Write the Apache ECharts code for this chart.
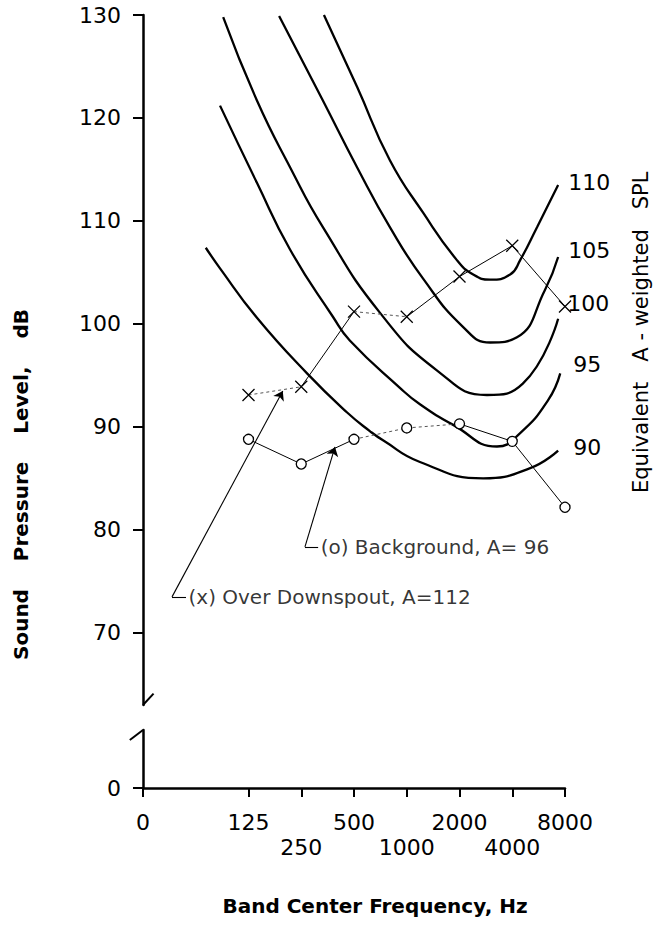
<!DOCTYPE html>
<html>
<head>
<meta charset="utf-8">
<script src="https://cdn.jsdelivr.net/npm/echarts@6/dist/echarts.min.js"></script>
<style>
	html, body { margin: 0; padding: 0; background: #fff; }
	#chart { width: 654px; height: 926px; }
</style>
</head>
<body>
<div id="chart"></div>
<script>
// octave band positions on the x axis (0 = "0", 1 is an empty slot)
const freqLabels = ['0', '', '125', '250', '500', '1000', '2000', '4000', '8000'];
const bandPos = [2, 3, 4, 5, 6, 7, 8];
const upperRow = [0, 2, 4, 6, 8];
const lowerRow = [3, 5, 7];
const yTicks = [70, 80, 90, 100, 110, 120, 130];

// measured spectra, dB
const overDownspout = [93.1, 93.9, 101.2, 100.7, 104.6, 107.6, 101.7];
const background = [88.8, 86.4, 88.8, 89.9, 90.3, 88.6, 82.2];

// equivalent A-weighted SPL contours, [band position, dB]
const contour90 = [[1.19, 107.4], [1.46, 105.4], [2.16, 100.6], [3.11, 95.2], [3.87, 91.4], [4.30, 89.6], [4.55, 88.7], [5.25, 86.6], [6.45, 85.0], [7.34, 86.0], [7.87, 87.7]];
const contour95 = [[1.46, 121.2], [2.16, 113.7], [2.79, 107.2], [3.60, 100.7], [3.92, 98.4], [4.87, 93.8], [5.25, 92.2], [5.88, 90.2], [6.71, 88.1], [7.15, 89.4], [7.68, 92.6], [7.91, 95.2]];
const contour100 = [[1.52, 129.8], [2.16, 121.7], [2.79, 115.2], [3.41, 109.4], [4.49, 101.1], [5.57, 95.5], [6.52, 93.1], [7.20, 94.2], [7.87, 100.5]];
const contour105 = [[2.58, 129.9], [3.41, 121.7], [4.06, 115.2], [4.68, 109.4], [5.31, 104.4], [6.07, 99.7], [6.58, 98.2], [7.09, 98.7], [7.62, 103.3], [7.87, 106.5]];
const contour110 = [[3.43, 130.0], [4.06, 123.0], [4.68, 115.9], [5.31, 110.8], [5.95, 106.2], [6.26, 104.8], [6.58, 104.3], [6.96, 104.8], [7.15, 106.2], [7.47, 109.4], [7.87, 113.5]];
const contourNames = ['90', '95', '100', '105', '110'];

const noteOver = '(x) Over Downspout, A=112';
const noteBackground = '(o) Background, A= 96';

const FONT = 'DejaVu Sans';
const GAP = '\u00a0\u00a0\u00a0 ';

function pairUp(xs, ys) {
	let out = [];
	for(let i = 0; i < xs.length; i++) {
		out.push([xs[i], ys[i]]);
	}
	return out;
}

function contourSeries(name, data, offset) {
	return {
		name: name,
		type: 'line',
		xAxisIndex: 0,
		yAxisIndex: 0,
		data: data,
		smooth: 0.5,
		symbol: 'none',
		silent: true,
		lineStyle: { color: '#000', width: 2.3 },
		endLabel: {
			show: true,
			formatter: name,
			distance: 0,
			offset: offset,
			color: '#000',
			fontFamily: FONT,
			fontSize: 22
		},
		z: 2
	};
}

// one piece of a measured spectrum line, solid or dotted like the original
function pieceSeries(values, from, to, dotted) {
	return {
		type: 'line',
		xAxisIndex: 0,
		yAxisIndex: 0,
		data: pairUp(bandPos.slice(from, to + 1), values.slice(from, to + 1)),
		symbol: 'none',
		silent: true,
		lineStyle: dotted ?
			{ color: '#555', width: 1, type: [3, 3] } :
			{ color: '#000', width: 1 },
		z: 3
	};
}

// markers only, drawn over the line pieces
function markerSeries(name, values, symbol, size, fill) {
	return {
		name: name,
		type: 'line',
		xAxisIndex: 0,
		yAxisIndex: 0,
		data: pairUp(bandPos, values),
		symbol: symbol,
		symbolSize: size,
		itemStyle: { color: fill, borderColor: '#000', borderWidth: 1.3 },
		lineStyle: { width: 0 },
		z: 4
	};
}

// invisible anchor point with the note text, plus its leader and arrow
function noteSeries(text, stub, corner, tip) {
	return {
		type: 'scatter',
		xAxisIndex: 0,
		yAxisIndex: 0,
		symbolSize: 1,
		itemStyle: { color: 'rgba(0,0,0,0)' },
		data: [{ value: stub }],
		label: {
			show: true,
			position: 'right',
			distance: 2,
			formatter: text,
			color: '#000',
			fontFamily: FONT,
			fontSize: 20
		},
		markLine: {
			silent: true,
			animation: false,
			label: { show: false },
			lineStyle: { color: '#000', width: 1.1, type: 'solid' },
			symbolSize: 9,
			data: [
				[{ coord: stub, symbol: 'none' }, { coord: corner, symbol: 'none' }],
				[{ coord: corner, symbol: 'none' }, { coord: tip, symbol: 'arrow' }]
			]
		}
	};
}

function freqAxis(values, margin, showLine) {
	return {
		gridIndex: 1, type: 'value', min: 0, max: 8, position: 'bottom',
		axisLine: { show: showLine, onZero: false, lineStyle: { color: '#000', width: 2.5 } },
		axisTick: { show: showLine, customValues: [0, 2, 3, 4, 5, 6, 7, 8], length: 9, lineStyle: { color: '#000', width: 2 } },
		axisLabel: {
			customValues: values,
			showMinLabel: true,
			showMaxLabel: true,
			margin: margin,
			fontSize: 22,
			color: '#000',
			formatter: function(v) {
				return freqLabels[v];
			}
		},
		splitLine: { show: false }
	};
}

let chart = echarts.init(document.getElementById('chart'), null, { renderer: 'svg' });

let option = {
	animation: false,
	backgroundColor: '#fff',
	textStyle: { fontFamily: FONT, color: '#000' },
	grid: [
		{ left: 143, top: 15, width: 422, height: 690 },
		{ left: 143, top: 730, width: 422, height: 58 }
	],
	xAxis: [
		{ gridIndex: 0, type: 'value', min: 0, max: 8, show: false },
		freqAxis(upperRow, 23, true),
		// 250, 1000, 4000 sit on a second row
		freqAxis(lowerRow, 48, false)
	],
	yAxis: [
		{
			gridIndex: 0, type: 'value', min: 63, max: 130,
			axisLine: { show: true, lineStyle: { color: '#000', width: 2.5 } },
			axisTick: { customValues: yTicks, length: 10, lineStyle: { color: '#000', width: 2 } },
			axisLabel: { customValues: yTicks, showMaxLabel: true, margin: 22, fontSize: 22, color: '#000' },
			splitLine: { show: false }
		},
		{
			gridIndex: 1, type: 'value', min: 0, max: 5.63,
			axisLine: { show: true, onZero: false, lineStyle: { color: '#000', width: 2.5 } },
			axisTick: { customValues: [0], length: 10, lineStyle: { color: '#000', width: 2 } },
			axisLabel: { customValues: [0], showMinLabel: true, margin: 22, fontSize: 22, color: '#000' },
			splitLine: { show: false }
		}
	],
	series: [
		contourSeries(contourNames[0], contour90, [15, -3]),
		contourSeries(contourNames[1], contour95, [13, -9]),
		contourSeries(contourNames[2], contour100, [9, -15]),
		contourSeries(contourNames[3], contour105, [10, -7]),
		contourSeries(contourNames[4], contour110, [10, -2]),
		pieceSeries(overDownspout, 0, 1, true),
		pieceSeries(overDownspout, 1, 2, false),
		pieceSeries(overDownspout, 2, 3, true),
		pieceSeries(overDownspout, 3, 6, false),
		pieceSeries(background, 0, 2, false),
		pieceSeries(background, 2, 4, true),
		pieceSeries(background, 4, 6, false),
		markerSeries('Over Downspout', overDownspout, 'path://M0,0L10,10M10,0L0,10', 12, '#000'),
		markerSeries('Background', background, 'circle', 10, '#fff'),
		noteSeries(noteOver, [0.815, 73.5], [0.55, 73.5], [2.65, 93.5]),
		noteSeries(noteBackground, [3.32, 78.35], [3.07, 78.35], [3.64, 88.06])
	]
};

chart.setOption(option);

// axis break hooks and titles, placed from the axes' own pixel mapping
let topEnd = chart.convertToPixel({ gridIndex: 0 }, [0, 63]);
let topHook = chart.convertToPixel({ gridIndex: 0 }, [0.2, 64.1]);
let lowEnd = chart.convertToPixel({ gridIndex: 1 }, [0, 5.63]);
let lowHook = chart.convertToPixel({ gridIndex: 1 }, [-0.25, 4.66]);
let zeroPt = chart.convertToPixel({ gridIndex: 1 }, [0, 0]);
let endPt = chart.convertToPixel({ gridIndex: 1 }, [8, 0]);

chart.setOption({
	graphic: [
		{
			type: 'polyline',
			shape: { points: [topEnd, topHook] },
			style: { stroke: '#000', lineWidth: 2, fill: null }
		},
		{
			type: 'polyline',
			shape: { points: [lowEnd, lowHook] },
			style: { stroke: '#000', lineWidth: 2, fill: null }
		},
		{
			type: 'text', x: 21, y: 660, rotation: Math.PI / 2,
			style: {
				text: 'Sound' + GAP + 'Pressure' + GAP + 'Level,' + GAP + 'dB',
				font: 'bold 20px "DejaVu Sans"', fill: '#000',
				textAlign: 'left', textVerticalAlign: 'middle'
			}
		},
		{
			type: 'text', x: 641, y: 493, rotation: Math.PI / 2,
			style: {
				text: 'Equivalent\u00a0\u00a0 A - weighted\u00a0\u00a0 SPL',
				font: '21px "DejaVu Sans"', fill: '#000',
				textAlign: 'left', textVerticalAlign: 'middle'
			}
		},
		{
			type: 'text', x: (zeroPt[0] + endPt[0]) / 2 + 21, y: zeroPt[1] + 118,
			style: {
				text: 'Band Center Frequency, Hz',
				font: 'bold 20px "DejaVu Sans"', fill: '#000',
				textAlign: 'center', textVerticalAlign: 'middle'
			}
		}
	]
});
</script>
</body>
</html>
